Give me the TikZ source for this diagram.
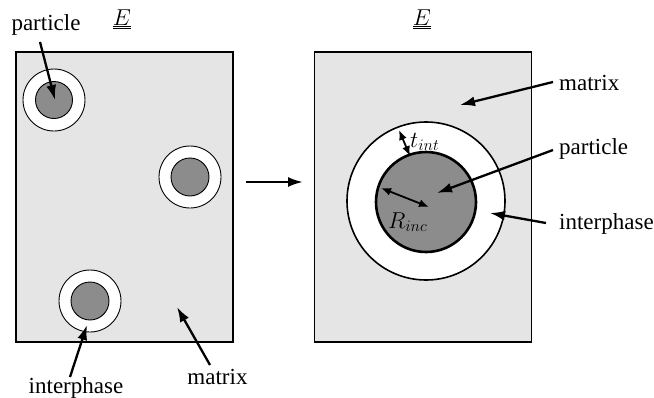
\RequirePackage{fix-cm}
\documentclass[tikz,border=0pt]{standalone}
\usepackage{fontspec}
\setmainfont{Liberation Serif}
\DeclareMathSizes{23}{23}{16}{12}
\usetikzlibrary{arrows.meta}
\definecolor{matgray}{RGB}{229,229,229}
\definecolor{partgray}{RGB}{140,140,140}
\tikzset{
  box/.style={draw=black, line width=1.8pt, fill=matgray, rectangle, inner sep=0pt},
  ring/.style={draw=black, line width=0.9pt, fill=white, circle, inner sep=0pt},
  core/.style={draw=black, line width=0.9pt, fill=partgray, circle, inner sep=0pt},
  lbl/.style={inner sep=0pt, font=\fontsize{23}{27}\selectfont},
  arr/.style={line width=2.3pt, -{Latex[length=15pt,width=10pt]}},
  darr/.style={line width=1.8pt, {Latex[length=10pt,width=8pt]}-{Latex[length=10pt,width=8pt]}}
}
\begin{document}
\begin{tikzpicture}[x=1pt,y=-1pt]
\useasboundingbox (0,0) rectangle (654,397);
% boxes
\node[box, minimum width=217pt, minimum height=290pt] (L) at (124.5,197) {};
\node[box, minimum width=217pt, minimum height=290pt] (R) at (423,197) {};
% left particles
\node[ring, minimum size=62pt] (o1) at (54,100) {};
\node[core, minimum size=37pt] (c1) at (54,100) {};
\node[ring, minimum size=62pt] (o2) at (190,177) {};
\node[core, minimum size=38pt] (c2) at (190,177) {};
\node[ring, minimum size=62pt] (o3) at (90,301) {};
\node[core, minimum size=38pt] (c3) at (90,301) {};
% right particle
\node[ring, line width=1.6pt, minimum size=158pt] (O) at (426,201) {};
\node[core, line width=2.6pt, minimum size=100pt] (C) at (426,202) {};
% titles
\node[lbl, anchor=base] (E1) at (122,25) {$\underline{\underline{E}}$};
\node[lbl, anchor=base] (E2) at (422,25) {$\underline{\underline{E}}$};
% labels
\node[lbl, anchor=base] (pL) at (46,30) {particle};
\node[lbl, anchor=base] (iL) at (76,393) {interphase};
\node[lbl, anchor=base] (mL) at (217.5,384) {matrix};
\node[lbl, anchor=base west] (mR) at (559,90) {matrix};
\node[lbl, anchor=base west] (pR) at (559,154) {particle};
\node[lbl, anchor=base west] (iR) at (559,229) {interphase};
\node[lbl, anchor=base west] (tl) at (410,147) {$t_{int}$};
\node[lbl, anchor=base west] (rl) at (388,228) {$R_{inc}$};
% arrow coordinates
\coordinate (a1s) at (40,42);   \coordinate (a1e) at (55,100);
\coordinate (a2s) at (70,377);  \coordinate (a2e) at (87,325);
\coordinate (a3s) at (210,365); \coordinate (a3e) at (177,307);
\coordinate (a4s) at (553,82);  \coordinate (a4e) at (460,105);
\coordinate (a5s) at (553,150); \coordinate (a5e) at (437,193);
\coordinate (a6s) at (546,223); \coordinate (a6e) at (490,213);
\coordinate (mS) at (246,182);  \coordinate (mE) at (303,182);
\coordinate (t1) at (399,130);  \coordinate (t2) at (410,156);
\coordinate (r1) at (381,188);  \coordinate (r2) at (429,207);
% arrows
\draw[arr] (a1s) -- (a1e);
\draw[arr] (a2s) -- (a2e);
\draw[arr] (a3s) -- (a3e);
\draw[arr] (a4s) -- (a4e);
\draw[arr] (a5s) -- (a5e);
\draw[arr] (a6s) -- (a6e);
\draw[arr] (mS) -- (mE);
\draw[darr] (t1) -- (t2);
\draw[darr] (r1) -- (r2);
\end{tikzpicture}
\end{document}
